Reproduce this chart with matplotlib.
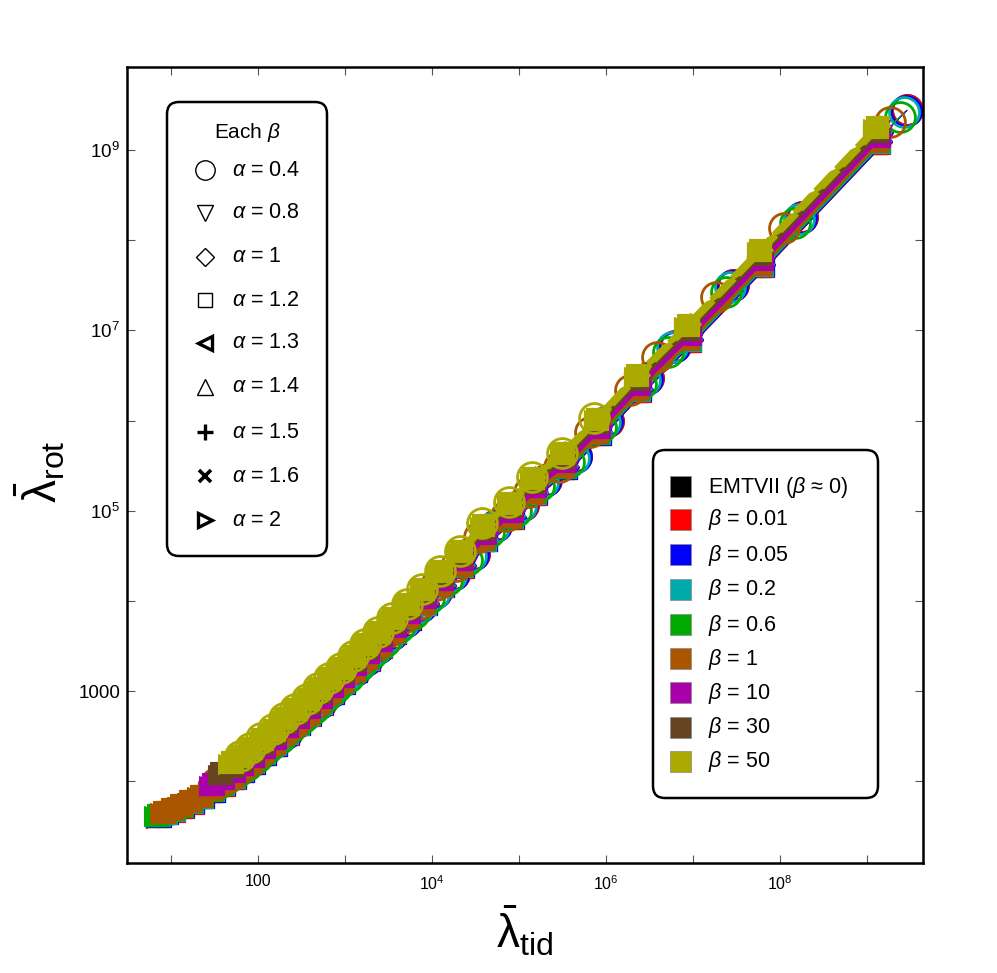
import numpy as np
import matplotlib

matplotlib.use('Agg')

import matplotlib.pyplot as plt
import matplotlib.ticker as ticker
from matplotlib.patches import FancyBboxPatch, Rectangle

plt.rcParams['font.family'] = ['Liberation Sans', 'DejaVu Sans']
plt.rcParams['mathtext.fontset'] = 'custom'
plt.rcParams['mathtext.rm'] = 'Liberation Sans'
plt.rcParams['mathtext.it'] = 'Liberation Sans:italic'
plt.rcParams['mathtext.bf'] = 'Liberation Sans:bold'

# beta families (colour) and alpha families (marker)
beta_labels = [r'EMTVII ($\beta$ ≈ 0)', r'$\beta$ = 0.01', r'$\beta$ = 0.05', r'$\beta$ = 0.2',
               r'$\beta$ = 0.6', r'$\beta$ = 1', r'$\beta$ = 10', r'$\beta$ = 30', r'$\beta$ = 50']
beta_colors = ['#000000', '#ff0000', '#0000ff', '#00aaaa', '#00aa00',
               '#aa5500', '#aa00aa', '#664422', '#aaaa00']
alpha_labels = [r'$\alpha$ = 0.4', r'$\alpha$ = 0.8', r'$\alpha$ = 1', r'$\alpha$ = 1.2', r'$\alpha$ = 1.3',
                r'$\alpha$ = 1.4', r'$\alpha$ = 1.5', r'$\alpha$ = 1.6', r'$\alpha$ = 2']

# model sequence, alpha = 1.2, beta = 50 (olive squares)
sq_tid = [1.30e9, 5.89e7, 8.71e6, 2.29e6, 7.94e5, 3.24e5, 1.45e5, 7.94e4, 3.89e4, 2.14e4,
          1.26e4, 7.94e3, 5.25e3, 3.55e3, 2.45e3, 1.74e3, 1.26e3, 912, 676, 501,
          372, 275, 204, 151, 112, 83.2, 63.1, 50.1, 38.0, 28.8,
          21.9, 16.6, 12.9, 10.2, 8.3, 6.9]
sq_rot = [1.78e9, 7.69e7, 1.135e7, 3.16e6, 1.05e6, 4.37e5, 2.29e5, 1.23e5, 6.92e4, 3.55e4,
          2.14e4, 1.35e4, 9.33e3, 6.46e3, 4.57e3, 3.31e3, 2.45e3, 1.82e3, 1.41e3, 1.07e3,
          813, 631, 501, 372, 295, 234, 191, 162, 135, 115,
          98, 86, 77, 70, 65, 61]

# alpha = 0.4 sequence (open circles), beta = 0.01
ring_tid = [2.88e9, 1.78e8, 2.88e7, 6.17e6, 3.02e6, 1.05e6, 4.57e5, 2.04e5, 1.12e5, 5.5e4,
            3.02e4, 1.78e4, 1.12e4, 7.41e3, 5.01e3, 3.47e3, 2.45e3, 1.78e3, 1.29e3, 955,
            708, 525, 389, 288, 214, 158, 117, 89.1, 70.8, 52.5, 39.8, 30.2]
ring_rot = [2.75e9, 1.82e8, 3.16e7, 6.76e6, 2.95e6, 1.0e6, 4.07e5, 2.19e5, 1.17e5, 6.9e4,
            3.31e4, 2.0e4, 1.26e4, 8.71e3, 6.03e3, 4.27e3, 3.09e3, 2.29e3, 1.70e3, 1.32e3,
            1.0e3, 759, 589, 468, 355, 280, 219, 180, 152, 128, 108, 93]

# shifts (dex) of each beta family against the reference sequences, and points shown
beta_dx = [0.03, 0.03, 0.03, 0.02, 0.01, 0.0, 0.02, 0.0, 0.0]
beta_dy = [-0.17, -0.17, -0.165, -0.16, -0.155, -0.15, -0.09, -0.04, 0.0]
beta_npts = [36, 36, 36, 36, 36, 35, 30, 29, 28]
ring_dx = [0.0, 0.0, -0.01, -0.03, -0.08, -0.2, 0.0, 0.0, -0.16]
ring_dy = [0.0, 0.0, -0.01, -0.02, -0.07, -0.13, 0.0, 0.0, 0.03]
ring_first = [0, 0, 0, 0, 0, 0, 0, 0, 5]
ring_npts = [31, 31, 31, 31, 31, 30, 0, 0, 28]

# shifts (dex) of each alpha family against alpha = 1.2
alpha_dx = [0.0, 0.04, 0.02, 0.0, -0.01, -0.02, -0.02, -0.03, -0.04]
alpha_dy = [0.0, 0.01, 0.01, 0.0, -0.01, -0.01, -0.01, -0.02, -0.02]

plot_markers = ['o', 'v', 'D', 's', '<', '^', 'P', 'X', '>']
plot_msize = [21.5, 14, 11, 16.5, 14, 14, 14, 13, 14]

W, H = 997, 973
fig = plt.figure(figsize=(W / 100, H / 100), dpi=100)
ax = fig.add_axes([127 / W, (H - 863) / H, 796 / W, 796 / H])
ax.set_xscale('log')
ax.set_yscale('log')

sq_tid = np.array(sq_tid)
sq_rot = np.array(sq_rot)
ring_tid = np.array(ring_tid)
ring_rot = np.array(ring_rot)

for b, c in enumerate(beta_colors):
    ls = (0, (5, 1.2)) if b == 8 else '-'
    for a in range(len(alpha_labels)):
        if a == 0:
            i0, n = ring_first[b], ring_npts[b]
            if n == 0:
                continue
            x = ring_tid[i0:n] * 10 ** ring_dx[b]
            y = ring_rot[i0:n] * 10 ** ring_dy[b]
            ax.plot(x, y, '-', color=c, lw=0.8, marker='o', ms=plot_msize[0],
                    mfc='none', mec=c, mew=2.0)
        else:
            n = beta_npts[b]
            x = sq_tid[:n] * 10 ** (beta_dx[b] + alpha_dx[a])
            y = sq_rot[:n] * 10 ** (beta_dy[b] + alpha_dy[a])
            ax.plot(x, y, linestyle=ls, color=c, lw=3.5, marker=plot_markers[a],
                    ms=plot_msize[a], mfc=c, mec=c, mew=0.8)

ax.set_xlim(10 ** 0.494, 10 ** 9.644)
ax.set_ylim(10 ** 1.094, 10 ** 9.92)

xt = [10.0 ** k for k in range(1, 10)]
xl = ['', '100', '', r'$\mathregular{10^{4}}$', '', r'$\mathregular{10^{6}}$', '',
      r'$\mathregular{10^{8}}$', '']
yt = [10.0 ** k for k in range(2, 10)]
yl = ['', '1000', '', r'$\mathregular{10^{5}}$', '', r'$\mathregular{10^{7}}$', '',
      r'$\mathregular{10^{9}}$']
ax.xaxis.set_major_locator(ticker.FixedLocator(xt))
ax.xaxis.set_major_formatter(ticker.FixedFormatter(xl))
ax.yaxis.set_major_locator(ticker.FixedLocator(yt))
ax.yaxis.set_major_formatter(ticker.FixedFormatter(yl))
ax.xaxis.set_minor_locator(ticker.NullLocator())
ax.yaxis.set_minor_locator(ticker.NullLocator())
ax.tick_params(which='major', direction='in', length=6, width=0.8, color='#555555',
               top=True, right=True)
ax.tick_params(axis='x', labelsize=11.5, pad=8)
ax.tick_params(axis='y', labelsize=13.5, pad=5)
for sp in ax.spines.values():
    sp.set_linewidth(1.8)

fig.text(525 / W, 1 - 931 / H, r'$\bar{\mathrm{\lambda}}_{\mathrm{tid}}$', fontsize=33,
         ha='center', va='center')
fig.text(40 / W, 1 - 472 / H, r'$\bar{\mathrm{\lambda}}_{\mathrm{rot}}$', fontsize=33,
         ha='center', va='center', rotation=90)


def px(x, y):
    return (x - 127) / 796, (863 - y) / 796


def box(x0, y0, x1, y1):
    ax0, ay0 = px(x0, y1)
    ax1, ay1 = px(x1, y0)
    r = 12 / 796
    p = FancyBboxPatch((ax0 + r, ay0 + r), ax1 - ax0 - 2 * r, ay1 - ay0 - 2 * r,
                       boxstyle='round,pad=%f' % r, transform=ax.transAxes,
                       fc='white', ec='black', lw=1.8, zorder=10, clip_on=False)
    ax.add_patch(p)


# alpha legend
box(167, 102, 327, 556)
tx, ty = px(247, 133)
ax.text(tx, ty, r'Each $\beta$', transform=ax.transAxes, fontsize=15,
        ha='center', va='center', zorder=11)
leg_markers = ['o', 'v', 'D', 's', '<', '^', '+', 'x', '>']
leg_ms = [14, 11, 9, 9.5, 10, 12, 11, 9, 10]
leg_mew = [1.0, 1.0, 1.0, 1.0, 2.4, 1.0, 2.4, 2.6, 2.4]
rows = [170, 213, 257, 300, 343, 387, 432, 476, 520]
for i, lab in enumerate(alpha_labels):
    mx, my = px(205, rows[i])
    ax.plot([mx], [my], marker=leg_markers[i], ms=leg_ms[i], mfc='white', mec='black',
            mew=leg_mew[i], transform=ax.transAxes, clip_on=False, zorder=11)
    lx, ly = px(232, rows[i])
    ax.text(lx, ly, lab, transform=ax.transAxes, fontsize=15.5, ha='left', va='center',
            zorder=11)

# beta legend
box(653, 450, 878, 798)
rows = [487, 520, 555, 590, 625, 659, 693, 728, 762]
for i, lab in enumerate(beta_labels):
    rx, ry = px(670, rows[i] + 10)
    ax.add_patch(Rectangle((rx, ry), 21 / 796, 21 / 796, transform=ax.transAxes,
                           fc=beta_colors[i], ec='#888888', lw=0.5, zorder=11, clip_on=False))
    lx, ly = px(708, rows[i])
    ax.text(lx, ly, lab, transform=ax.transAxes, fontsize=15.5, ha='left', va='center',
            zorder=11)

fig.savefig('out.png', dpi=100)
